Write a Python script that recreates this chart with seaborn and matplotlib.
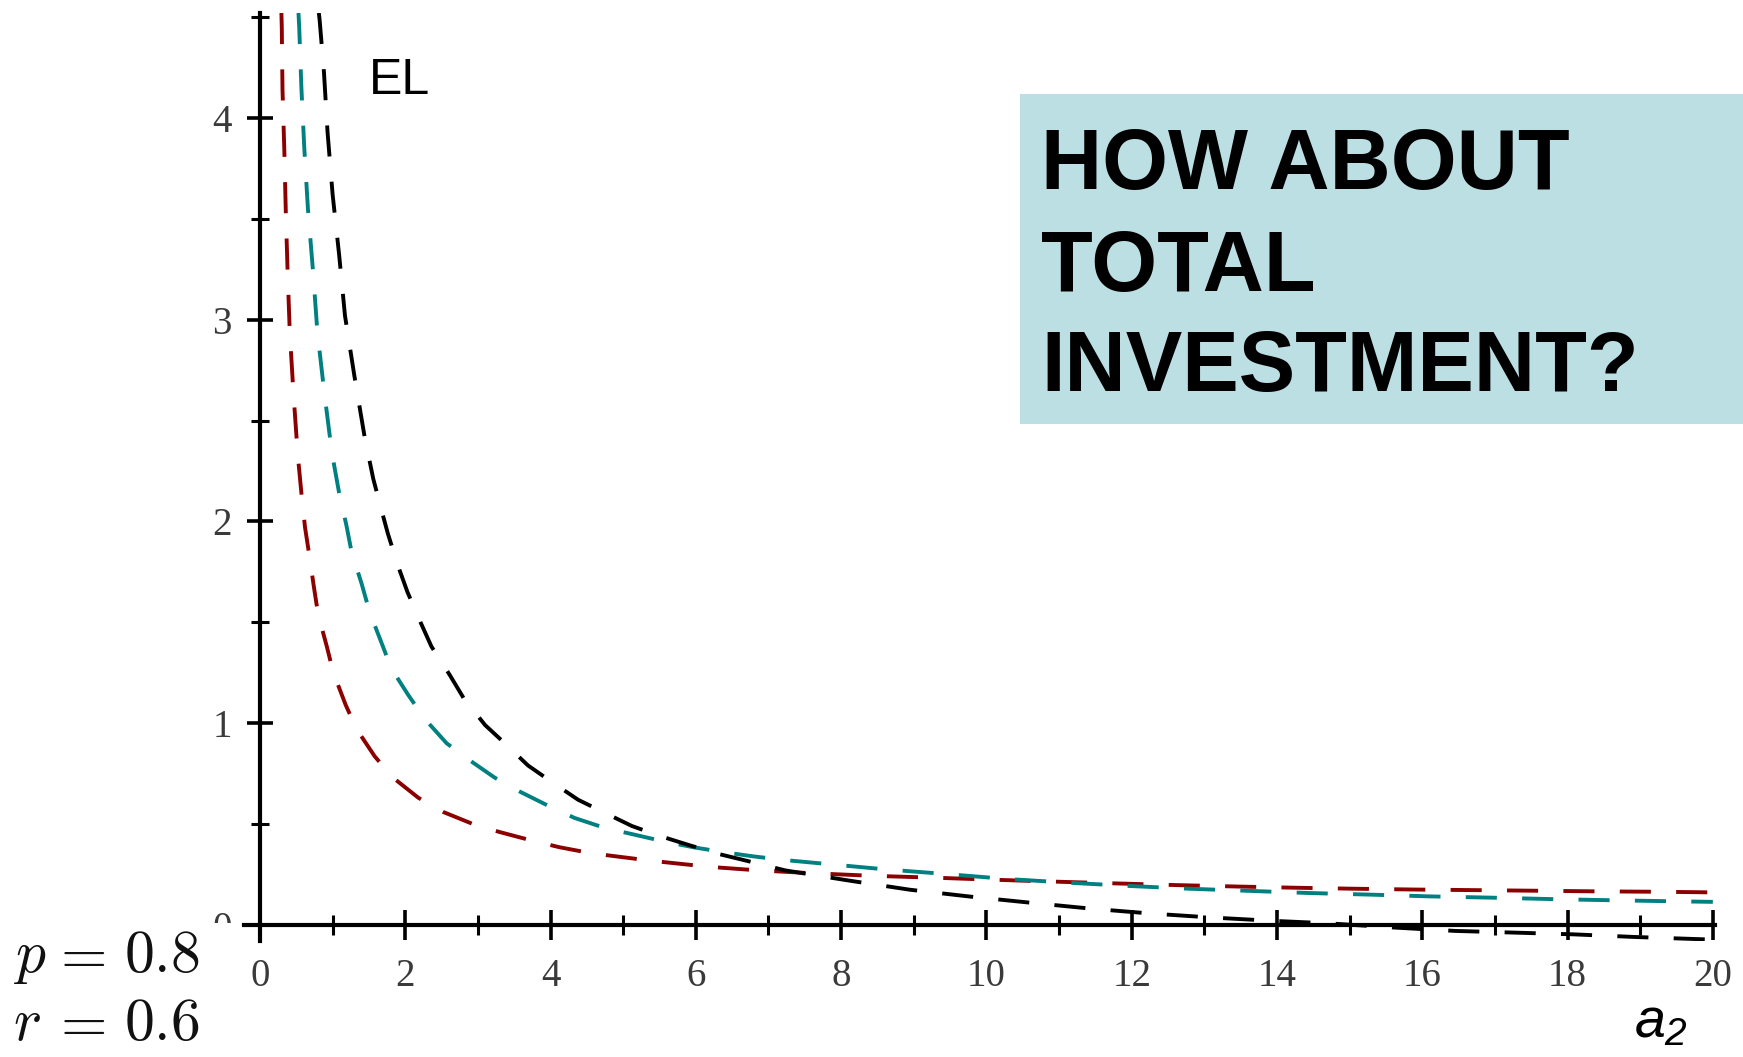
import matplotlib
matplotlib.use("Agg")
import matplotlib.pyplot as plt
import numpy as np
import pandas as pd
import seaborn as sns
from matplotlib.patches import Rectangle
from matplotlib.ticker import MultipleLocator, FixedLocator
from matplotlib.transforms import Bbox, TransformedBbox

# Expected loss EL as a function of the investment a2, three cases
red_a2 = [0.295, 0.30, 0.31, 0.335, 0.355, 0.38, 0.41, 0.46, 0.52, 0.573, 0.62,
          0.68, 0.74, 0.80, 0.92, 1.01, 1.18, 1.33, 1.58, 1.83, 2.18, 2.52, 2.93,
          3.30, 3.72, 4.12, 4.56, 5.38, 6.17, 6.86, 7.60, 8.44, 9.27, 10.07, 10.78,
          11.63, 12.63, 13.45, 14.26, 15.08, 15.92, 16.77, 17.62, 18.43, 19.28, 20.0]
red_el = [4.52, 4.45, 4.14, 3.84, 3.54, 3.24, 2.94, 2.64, 2.33, 2.13, 1.97,
          1.83, 1.68, 1.54, 1.38, 1.25, 1.09, 0.97, 0.835, 0.73, 0.63, 0.56, 0.50,
          0.46, 0.42, 0.385, 0.355, 0.318, 0.288, 0.27, 0.256, 0.243, 0.234, 0.224, 0.216,
          0.207, 0.197, 0.19, 0.184, 0.179, 0.175, 0.172, 0.169, 0.166, 0.164, 0.161]

teal_a2 = [0.53, 0.54, 0.57, 0.61, 0.66, 0.73, 0.79, 0.885, 0.99, 1.09, 1.19, 1.26,
           1.40, 1.51, 1.66, 1.81, 2.04, 2.27, 2.57, 2.87, 3.23, 3.58, 3.97, 4.33,
           4.75, 5.12, 5.54, 5.96, 6.39, 6.78, 7.20, 7.80, 8.61, 9.41, 10.26, 11.08,
           11.95, 12.8, 13.58, 14.43, 15.27, 16.12, 16.93, 17.75, 18.6, 19.44, 20.0]
teal_el = [4.52, 4.45, 4.15, 3.85, 3.55, 3.24, 2.94, 2.64, 2.34, 2.14, 1.98, 1.85,
           1.69, 1.55, 1.41, 1.27, 1.14, 1.02, 0.90, 0.82, 0.73, 0.66, 0.59, 0.53,
           0.48, 0.45, 0.415, 0.385, 0.36, 0.34, 0.322, 0.302, 0.275, 0.253, 0.228, 0.21,
           0.193, 0.179, 0.169, 0.158, 0.150, 0.141, 0.135, 0.128, 0.122, 0.117, 0.114]

black_a2 = [0.81, 0.82, 0.88, 0.93, 1.00, 1.09, 1.17, 1.30, 1.44, 1.56, 1.67, 1.76,
            1.90, 2.03, 2.21, 2.36, 2.61, 2.81, 3.10, 3.37, 3.69, 4.01, 4.38, 4.72,
            5.12, 5.51, 5.91, 6.33, 6.73, 7.23, 8.10, 8.95, 9.78, 10.6, 11.45, 12.27,
            13.12, 13.94, 14.69, 15.6, 16.45, 17.23, 18.08, 18.92, 19.74, 20.0]
black_el = [4.52, 4.49, 4.23, 3.93, 3.62, 3.32, 3.02, 2.72, 2.42, 2.21, 2.06, 1.94,
            1.78, 1.65, 1.50, 1.38, 1.24, 1.12, 0.99, 0.90, 0.79, 0.71, 0.62, 0.56,
            0.49, 0.44, 0.395, 0.35, 0.315, 0.27, 0.22, 0.174, 0.14, 0.11, 0.08, 0.056,
            0.036, 0.02, 0.008, -0.013, -0.03, -0.038, -0.047, -0.06, -0.07, -0.073]

series_names = ["red", "teal", "black"]
series_colors = ["#8b0000", "#008080", "#000000"]

x_major = [0, 2, 4, 6, 8, 10, 12, 14, 16, 18, 20]
y_major = [0, 1, 2, 3, 4]

frames = [
    pd.DataFrame({"a2": red_a2, "EL": red_el, "series": "red"}),
    pd.DataFrame({"a2": teal_a2, "EL": teal_el, "series": "teal"}),
    pd.DataFrame({"a2": black_a2, "EL": black_el, "series": "black"}),
]
df = pd.concat(frames, ignore_index=True)

sns.set_style("white")
plt.rcParams["font.family"] = ["Liberation Sans", "DejaVu Sans"]
plt.rcParams["mathtext.fontset"] = "custom"
plt.rcParams["mathtext.it"] = "Liberation Sans:italic"
plt.rcParams["mathtext.rm"] = "Liberation Sans:italic"

W, H = 1743, 1057
fig = plt.figure(figsize=(W / 100, H / 100), dpi=100)
ax = fig.add_axes([244 / W, 1 - 941 / H, (1715 - 244) / W, (941 - 13) / H])

for name, color in zip(series_names, series_colors):
    sub = df[df["series"] == name]
    sns.lineplot(data=sub, x="a2", y="EL", sort=False, estimator=None,
                 color=color, lw=2.8, linestyle=(0, (8, 6.5)), ax=ax,
                 legend=False, zorder=3)

ax.set_xlim(-0.22, 20.03)
ax.set_ylim(-0.08, 4.52)
ax.set_xlabel("")
ax.set_ylabel("")

ax.xaxis.set_major_locator(FixedLocator(x_major))
ax.xaxis.set_minor_locator(MultipleLocator(1))
ax.yaxis.set_major_locator(FixedLocator(y_major))
ax.yaxis.set_minor_locator(FixedLocator([0.5, 1.5, 2.5, 3.5, 4.5]))

for side in ["top", "right"]:
    ax.spines[side].set_visible(False)
for side in ["left", "bottom"]:
    ax.spines[side].set_position(("data", 0))
    ax.spines[side].set_color("black")
    ax.spines[side].set_linewidth(3)

ax.tick_params(which="both", bottom=True, left=True, top=False, right=False,
               direction="inout", color="black", labelsize=28, labelcolor="#3a3a3a")
ax.tick_params(axis="x", which="major", length=22, width=2.6, pad=12.8)
ax.tick_params(axis="y", which="major", length=19, width=2.6, pad=10.8)
ax.tick_params(axis="x", which="minor", length=13.7, width=2.2)
ax.tick_params(axis="y", which="minor", length=13, width=2.2)

plt.setp(ax.get_xticklabels(), family="Liberation Serif")
plt.setp(ax.get_yticklabels(), family="Liberation Serif")

# the zero label on the y axis is only partly visible above the parameter notes
for tick in ax.yaxis.get_major_ticks():
    if tick.get_loc() == 0:
        clip = TransformedBbox(Bbox([[0, (H - 923) / H], [1, 1]]), fig.transFigure)
        tick.label1.set_clip_box(clip)
        tick.label1.set_clip_on(True)

# parameter notes, set piece by piece for wide spacing around the equals sign
for base, sym, val in [(972, "p", "0.8"), (1040, "r", "0.6")]:
    for x0, part in [(13, "$%s$" % sym), (50, "$=$"), (124, "$%s$" % val)]:
        fig.text(x0 / W, 1 - base / H, part, math_fontfamily="cm", fontsize=43,
                 va="baseline", ha="left", color="#111111")

# axis names
fig.text(369 / W, 1 - 94 / H, "EL", fontsize=36, va="baseline", ha="left", color="black")
fig.text(1634 / W, 1 - 1037 / H, r"$a_2$", fontsize=40, va="baseline", ha="left",
         color="black", math_fontfamily="custom")

# callout box
fig.add_artist(Rectangle((1020 / W, 1 - 424 / H), (W - 1020) / W, (424 - 94) / H,
                         transform=fig.transFigure, facecolor="#bbdfe3",
                         edgecolor="none", zorder=5))
for line, base in zip(["HOW ABOUT", "TOTAL", "INVESTMENT?"], [189, 291, 391]):
    fig.text(1041 / W, 1 - base / H, line, fontsize=61, fontweight="bold",
             va="baseline", ha="left", color="black", zorder=6)

fig.savefig("out.png", dpi=100)
